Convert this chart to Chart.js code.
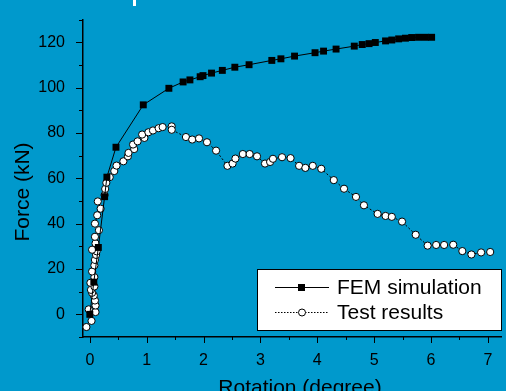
<!DOCTYPE html>
<html>
<head>
<meta charset="utf-8">
<script src="https://cdn.jsdelivr.net/npm/chart.js@4.4.0/dist/chart.umd.min.js"></script>
<style>
  html, body { margin: 0; padding: 0; background: #0099cc; }
  #wrap { width: 506px; height: 391px; position: relative; }
</style>
</head>
<body>
<div id="wrap"><canvas id="c" width="506" height="391"></canvas></div>
<script>
// FEM simulation curve
var femX = [0, 0.07, 0.15, 0.26, 0.30, 0.46, 0.94, 1.39, 1.64, 1.76, 1.94, 1.99, 2.14, 2.33, 2.55, 2.80,
    3.20, 3.36, 3.60, 3.96, 4.11, 4.33, 4.65, 4.79, 4.91, 5.02, 5.20, 5.31, 5.43, 5.55, 5.66, 5.78, 5.90, 6.01];
var femY = [0, 14.2, 29.5, 51.9, 60.5, 73.7, 92.4, 99.7, 102.5, 103.4, 104.8, 105.3, 106.4, 107.6, 109.0, 110.1,
    112.0, 112.7, 113.9, 115.4, 116.1, 117.0, 118.3, 119.0, 119.4, 119.9, 120.6, 121.0, 121.5, 121.8, 122.1, 122.2, 122.2, 122.2];

// test results
var testX = [-0.06, 0.03, -0.02, 0.10, 0.10, 0.09, 0.07, 0.04, 0.02, 0.08, 0.01, 0.08, 0.04, 0.08, 0.09, 0.11,
    0.12, 0.04, 0.10, 0.09, 0.16, 0.09, 0.13, 0.19, 0.14, 0.26, 0.27, 0.29, 0.35, 0.43, 0.47, 0.59, 0.67, 0.68,
    0.78, 0.76, 0.84, 0.96, 0.92, 1.03, 1.11, 1.21, 1.28, 1.44, 1.44, 1.69, 1.80, 1.92, 2.06, 2.22, 2.42, 2.51,
    2.56, 2.69, 2.81, 2.94, 3.08, 3.17, 3.22, 3.38, 3.53, 3.68, 3.79, 3.92, 4.07, 4.29, 4.47, 4.68, 4.82, 5.06,
    5.20, 5.31, 5.49, 5.73, 5.94, 6.09, 6.23, 6.39, 6.55, 6.71, 6.88, 7.04];
var testY = [-5.6, -2.9, 2.2, 1.0, 3.9, 6.1, 8.3, 9.5, 10.8, 12.3, 13.9, 16.4, 18.9, 21.6, 24.0, 26.2,
    27.8, 28.5, 31.3, 34.2, 37.1, 40.0, 43.7, 46.6, 49.8, 52.6, 55.3, 58.0, 60.5, 63.2, 65.6, 67.5, 69.7, 71.2,
    72.9, 74.9, 76.3, 77.8, 79.3, 80.3, 81.1, 82.1, 82.6, 82.9, 81.4, 78.2, 77.1, 77.6, 75.9, 72.2, 65.5, 66.5,
    68.7, 70.7, 70.7, 69.7, 66.5, 67.2, 68.6, 69.3, 68.9, 65.5, 64.6, 65.5, 64.2, 59.2, 55.4, 51.8, 48.1, 44.3,
    43.4, 43.0, 40.9, 35.1, 30.3, 30.6, 30.6, 30.7, 27.9, 26.4, 27.3, 27.5];

var xTickValues = [0, 1, 2, 3, 4, 5, 6, 7];
var yTickValues = [0, 20, 40, 60, 80, 100, 120];

var seriesNames = ["FEM simulation", "Test results"];
var xTitle = "Rotation (degree)";
var yTitle = "Force (kN)";

function toPoints(xs, ys) {
    return xs.map(function (x, i) { return { x: x, y: ys[i] }; });
}

// tick marks, axis titles and the boxed legend
var decor = {
    id: 'decor',
    afterDraw: function (chart) {
        var ctx = chart.ctx, xs = chart.scales.x, ys = chart.scales.y, a = chart.chartArea;
        ctx.save();
        ctx.strokeStyle = '#000';
        ctx.lineWidth = 1;
        ctx.beginPath();
        for (var v = -10; v <= 130; v += 10) {
            var y = Math.round(ys.getPixelForValue(v)) + 0.5;
            var len = (v % 20 === 0) ? 7 : 4;
            ctx.moveTo(a.left - len, y);
            ctx.lineTo(a.left, y);
        }
        for (var k = 0; k <= 14; k++) {
            var x = Math.round(xs.getPixelForValue(k / 2)) + 0.5;
            var l2 = (k % 2 === 0) ? 6 : 3;
            ctx.moveTo(x, a.bottom);
            ctx.lineTo(x, a.bottom + l2);
        }
        ctx.stroke();

        ctx.fillStyle = '#000';
        ctx.font = '21px "Liberation Sans", Arial, sans-serif';
        ctx.textAlign = 'center';
        ctx.textBaseline = 'middle';
        ctx.fillText(xTitle, 300, 388);
        ctx.save();
        ctx.translate(23, 192);
        ctx.rotate(-Math.PI / 2);
        ctx.fillText(yTitle, 0, 0);
        ctx.restore();

        // legend box
        ctx.fillStyle = '#fff';
        ctx.fillRect(257, 269, 244, 61);
        ctx.strokeRect(257.5, 269.5, 244, 61);
        ctx.beginPath();
        ctx.moveTo(275, 287.5);
        ctx.lineTo(329, 287.5);
        ctx.stroke();
        ctx.fillStyle = '#000';
        ctx.fillRect(298, 284, 7, 7);
        ctx.setLineDash([1.5, 1.5]);
        ctx.beginPath();
        ctx.moveTo(275, 312.5);
        ctx.lineTo(329, 312.5);
        ctx.stroke();
        ctx.setLineDash([]);
        ctx.fillStyle = '#fff';
        ctx.beginPath();
        ctx.arc(302, 312.5, 3.5, 0, Math.PI * 2);
        ctx.fill();
        ctx.stroke();
        ctx.fillStyle = '#000';
        ctx.textAlign = 'left';
        ctx.fillText(seriesNames[0], 337, 288);
        ctx.fillText(seriesNames[1], 337, 313);

        // bit of the clipped title at the top
        ctx.fillStyle = '#fff';
        ctx.fillRect(133, 0, 3, 6);
        ctx.restore();
    }
};

var chart = new Chart(document.getElementById('c'), {
    type: 'scatter',
    data: {
        datasets: [
            {
                label: seriesNames[0],
                data: toPoints(femX, femY),
                showLine: true,
                borderColor: '#000',
                borderWidth: 1,
                pointStyle: 'rect',
                pointRadius: 4.9,
                pointBackgroundColor: '#000',
                pointBorderColor: '#000',
                pointBorderWidth: 0,
                clip: false
            },
            {
                label: seriesNames[1],
                data: toPoints(testX, testY),
                showLine: true,
                borderColor: '#000',
                borderWidth: 1,
                borderDash: [2, 2],
                pointStyle: 'circle',
                pointRadius: 3.6,
                pointBackgroundColor: '#fff',
                pointBorderColor: '#000',
                pointBorderWidth: 1,
                clip: false
            }
        ]
    },
    options: {
        responsive: false,
        animation: false,
        layout: { padding: { top: 17, right: 3, left: 0, bottom: 0 } },
        plugins: { legend: { display: false }, tooltip: { enabled: false } },
        scales: {
            x: {
                type: 'linear',
                min: -0.12,
                max: 7.23,
                grid: { display: false },
                border: { display: true, color: '#000', width: 1.5 },
                ticks: {
                    color: '#000',
                    padding: 6,
                    maxRotation: 0,
                    font: { family: '"Liberation Sans", Arial, sans-serif', size: 16 }
                },
                afterBuildTicks: function (scale) {
                    scale.ticks = xTickValues.map(function (v) { return { value: v }; });
                },
                afterFit: function (scale) { scale.height = 54; }
            },
            y: {
                min: -10,
                max: 130,
                grid: { display: false },
                border: { display: true, color: '#000', width: 1.5 },
                ticks: {
                    color: '#000',
                    padding: 10,
                    font: { family: '"Liberation Sans", Arial, sans-serif', size: 16 }
                },
                afterBuildTicks: function (scale) {
                    scale.ticks = yTickValues.map(function (v) { return { value: v }; });
                },
                afterFit: function (scale) { scale.width = 83; }
            }
        }
    },
    plugins: [decor]
});
</script>
</body>
</html>
